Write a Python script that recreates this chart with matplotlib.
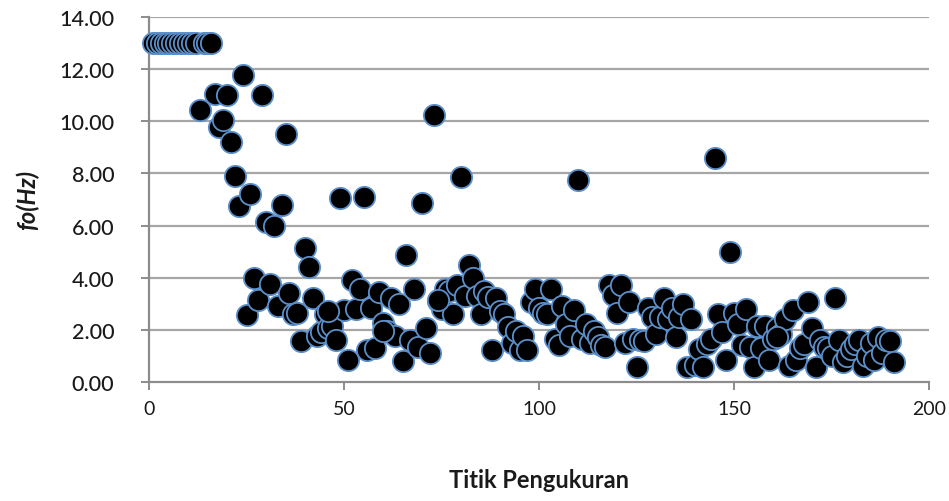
import matplotlib
matplotlib.use("Agg")
import matplotlib.pyplot as plt
from matplotlib.ticker import FormatStrFormatter

titik = [1, 2, 3, 4, 5, 6, 7, 8, 9, 10, 11, 12, 14, 15, 16,
         13, 17, 18, 19, 20, 21, 22, 23, 24, 25, 26, 27, 28, 29, 30,
         31, 32, 33, 34, 35, 36, 37, 38, 39, 40, 41, 42, 43, 44, 45,
         46, 47, 48, 49, 50, 51, 52, 53, 54, 55, 56, 57, 58, 59, 60,
         61, 62, 63, 64, 65, 66, 67, 68, 69, 70, 71, 72, 73, 74, 75,
         76, 77, 78, 79, 80, 81, 82, 83, 84, 85, 86, 87, 88, 89, 90,
         91, 92, 93, 94, 95, 96, 97, 98, 99, 100, 101, 102, 103, 104, 105,
         106, 107, 108, 109, 110, 111, 112, 113, 114, 115, 116, 117, 118, 119, 120,
         121, 122, 123, 124, 125, 126, 127, 128, 129, 130, 131, 132, 133, 134, 135,
         136, 137, 138, 139, 140, 141, 142, 143, 144, 145, 146, 147, 148, 149, 150,
         151, 152, 153, 154, 155, 156, 157, 158, 159, 160, 161, 162, 163, 164, 165,
         166, 167, 168, 169, 170, 171, 172, 173, 174, 175, 176, 177, 178, 179, 180,
         181, 182, 183, 184, 185, 186, 187, 188, 189, 190, 191,
         46, 60, 161, 74]
fo = [13.0, 13.0, 13.0, 13.0, 13.0, 13.0, 13.0, 13.0, 13.0, 13.0, 13.0, 13.0, 13.0, 13.0, 13.0,
      10.45, 11.05, 9.8, 10.05, 11.0, 9.2, 7.9, 6.75, 11.8, 2.55, 7.2, 4.0, 3.15, 11.0, 6.15,
      3.75, 6.0, 2.9, 6.8, 9.5, 3.4, 2.6, 2.65, 1.55, 5.15, 4.4, 3.2, 1.75, 1.9, 2.6,
      2.05, 2.15, 1.6, 7.05, 2.75, 0.85, 3.9, 2.8, 3.55, 7.1, 1.2, 2.85, 1.3, 3.45, 2.25,
      1.95, 3.2, 1.75, 3.0, 0.8, 4.85, 1.6, 3.55, 1.35, 6.85, 2.05, 1.1, 10.25, 3.1, 2.8,
      3.55, 3.5, 2.6, 3.7, 7.85, 3.3, 4.5, 4.0, 3.3, 2.6, 3.5, 3.25, 1.2, 3.2, 2.7,
      2.6, 2.1, 1.5, 1.95, 1.2, 1.75, 1.2, 3.05, 3.55, 2.85, 2.65, 2.6, 3.55, 1.65, 1.4,
      2.9, 2.2, 1.75, 2.75, 7.75, 1.65, 2.2, 1.5, 1.95, 1.7, 1.4, 1.35, 3.7, 3.35, 2.65,
      3.7, 1.5, 3.05, 1.65, 0.55, 1.6, 1.55, 2.85, 2.5, 1.85, 2.5, 3.2, 2.4, 2.85, 1.7,
      2.5, 3.0, 0.55, 2.4, 0.65, 1.25, 0.55, 1.45, 1.65, 8.6, 2.6, 1.9, 0.85, 5.0, 2.65,
      2.2, 1.4, 2.8, 1.35, 0.55, 2.15, 1.3, 2.15, 0.85, 1.65, 2.05, 1.85, 2.4, 0.6, 2.75,
      0.85, 1.3, 1.45, 3.05, 2.05, 0.55, 1.6, 1.35, 1.3, 1.0, 3.2, 1.6, 0.75, 1.0, 1.25,
      1.45, 1.6, 0.6, 1.0, 1.5, 0.85, 1.7, 1.1, 1.6, 1.55, 0.75,
      2.7, 1.95, 1.7, 3.15]

x_ticks = [0, 50, 100, 150, 200]
y_ticks = [0, 2, 4, 6, 8, 10, 12, 14]

plt.rcParams["font.family"] = ["Lato", "DejaVu Sans"]

fig = plt.figure(figsize=(9.49, 5.02), dpi=100)
ax = fig.add_axes([0.157, 0.2376, 0.822, 0.726])

grid_col = "#a6a6a6"
for yv in y_ticks[1:]:
    ax.axhline(yv, color=grid_col, lw=1.6, zorder=1)

ax.scatter(titik, fo, s=235, c="black", edgecolors="#5b8fc9",
           linewidths=1.3, zorder=3, clip_on=False)

ax.set_xlim(0, 200)
ax.set_ylim(0, 14)
ax.set_xticks(x_ticks)
ax.set_yticks(y_ticks)
ax.yaxis.set_major_formatter(FormatStrFormatter("%.2f"))

for side in ["top", "right"]:
    ax.spines[side].set_visible(False)
for side in ["left", "bottom"]:
    ax.spines[side].set_color("#8c8c8c")
    ax.spines[side].set_linewidth(1.6)
    ax.spines[side].set_zorder(2)

ax.tick_params(axis="both", colors="#8c8c8c", length=6, width=1.4)
ax.tick_params(axis="y", labelsize=15.5, labelcolor="#1a1a1a", pad=19)
ax.tick_params(axis="x", labelsize=14, labelcolor="#1a1a1a", pad=7)
for lab in ax.get_yticklabels():
    lab.set_fontweight("medium")

ax.set_xlabel("Titik Pengukuran", fontsize=17, fontweight="bold",
              color="#1a1a1a", labelpad=37)
ax.set_ylabel("fo(Hz)", fontsize=17, fontweight="bold", fontstyle="italic",
              color="#1a1a1a", labelpad=14)

fig.savefig("out.png", dpi=100)
